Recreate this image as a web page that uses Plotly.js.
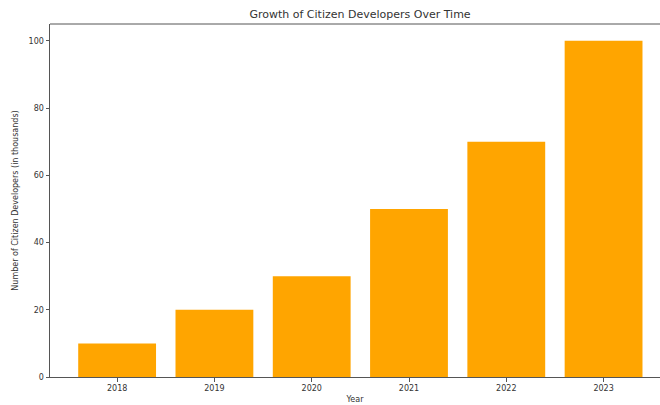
<!DOCTYPE html>
<html>
<head>
<meta charset="utf-8">
<script src="https://cdn.plot.ly/plotly-3.0.1.min.js"></script>
<style>
html, body { margin: 0; padding: 0; overflow: hidden; background: #fff; }
#chart { width: 660px; height: 405px; }
</style>
</head>
<body>
<div id="chart"></div>
<script>
const years = ['2018', '2019', '2020', '2021', '2022', '2023'];
const developers = [10, 20, 30, 50, 70, 100];

const axisColor = '#555';
const fontFamily = 'DejaVu Sans, sans-serif';

Plotly.newPlot('chart', [{
  type: 'bar',
  x: years,
  y: developers,
  marker: { color: '#FFA500' },
  width: 0.8
}], {
  width: 660,
  height: 405,
  margin: { l: 50, r: 0, t: 24, b: 28 },
  paper_bgcolor: '#fff',
  plot_bgcolor: '#fff',
  font: { family: fontFamily, size: 8, color: '#333' },
  title: {
    text: 'Growth of Citizen Developers Over Time',
    font: { family: fontFamily, size: 11, color: '#333' },
    xref: 'container', x: 0.5455, xanchor: 'center',
    yref: 'container', y: 0.965, yanchor: 'middle'
  },
  xaxis: {
    type: 'category',
    range: [-0.69, 5.58],
    showline: true, linecolor: axisColor, linewidth: 1, mirror: false,
    ticks: 'outside', ticklen: 3.5, tickcolor: axisColor, tickwidth: 1,
    showgrid: false, zeroline: false,
    tickfont: { size: 8, color: '#333' },
    title: { text: 'Year', font: { size: 8, color: '#333' }, standoff: 4 }
  },
  yaxis: {
    range: [0, 105],
    tickvals: [0, 20, 40, 60, 80, 100],
    showline: true, linecolor: axisColor, linewidth: 1, mirror: false,
    ticks: 'outside', ticklen: 3.5, tickcolor: axisColor, tickwidth: 1,
    showgrid: false, zeroline: false,
    tickfont: { size: 8, color: '#333' },
    title: { text: 'Number of Citizen Developers (in thousands)', font: { size: 8, color: '#333' }, standoff: 8 }
  },
  shapes: [{
    type: 'line', xref: 'paper', yref: 'paper', x0: 0, x1: 1, y0: 1, y1: 1,
    line: { color: axisColor, width: 1 }
  }],
  bargap: 0.2,
  showlegend: false
}, { displayModeBar: false, staticPlot: true });
</script>
</body>
</html>
